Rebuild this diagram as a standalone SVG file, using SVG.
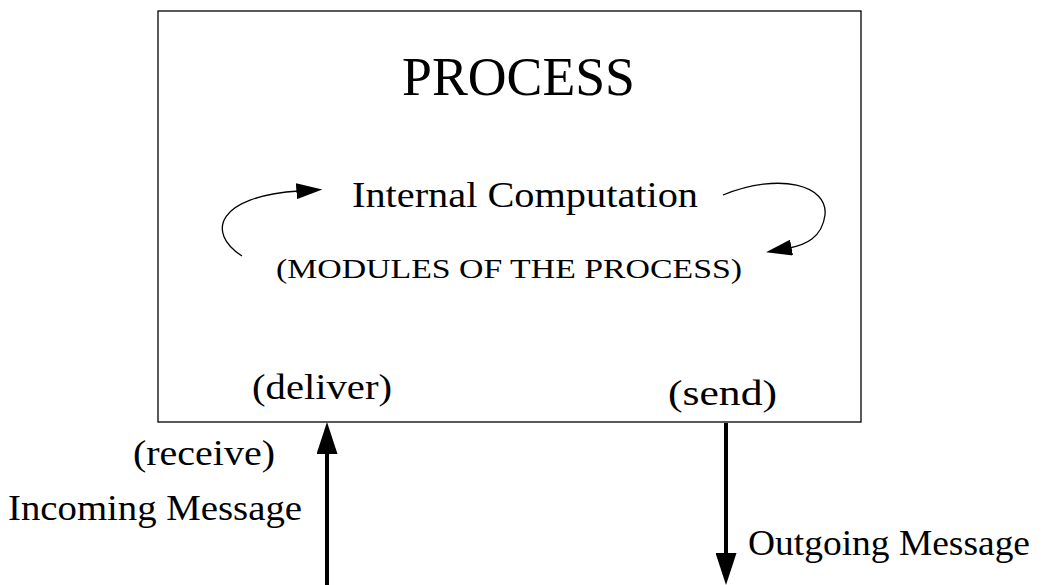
<svg xmlns="http://www.w3.org/2000/svg" width="1043" height="585" viewBox="0 0 1043 585">
  <style>
    text { font-family: "Liberation Serif", "DejaVu Serif", serif; fill: #000; }
    .frame { fill: #fff; stroke: #000; stroke-width: 1.3; }
    .thin { fill: none; stroke: #000; stroke-width: 1.3; }
    .thick { fill: none; stroke: #000; stroke-width: 4; }
  </style>
  <defs>
    <!-- heads start where the path ends, so the line stops at the head's base -->
    <marker id="headThin" viewBox="0 0 10 10" refX="1" refY="5" markerWidth="26" markerHeight="16" markerUnits="userSpaceOnUse" orient="auto" preserveAspectRatio="none">
      <path d="M0,0 L10,5 L0,10 Z" fill="#000"/>
    </marker>
    <marker id="headThick" viewBox="0 0 10 10" refX="0" refY="5" markerWidth="32" markerHeight="21" markerUnits="userSpaceOnUse" orient="auto" preserveAspectRatio="none">
      <path d="M0,0 L10,5 L0,10 Z" fill="#000"/>
    </marker>
  </defs>

  <rect width="1043" height="585" fill="#fff"/>

  <g id="process">
    <rect class="frame" x="158" y="11" width="703" height="411"/>
    <text x="402" y="95" font-size="54" textLength="233" lengthAdjust="spacingAndGlyphs">PROCESS</text>
    <text x="352" y="207" font-size="35" textLength="346" lengthAdjust="spacingAndGlyphs">Internal Computation</text>
    <text x="276" y="278" font-size="28" textLength="466" lengthAdjust="spacingAndGlyphs">(MODULES OF THE PROCESS)</text>
    <text x="252" y="399" font-size="35" textLength="140" lengthAdjust="spacingAndGlyphs">(deliver)</text>
    <text x="668" y="405" font-size="35" textLength="109" lengthAdjust="spacingAndGlyphs">(send)</text>
  </g>

  <g id="incoming">
    <text x="133" y="465" font-size="35" textLength="142" lengthAdjust="spacingAndGlyphs">(receive)</text>
    <text x="8" y="520" font-size="35" textLength="294" lengthAdjust="spacingAndGlyphs">Incoming Message</text>
  </g>

  <g id="outgoing">
    <text x="748" y="555" font-size="35" textLength="282" lengthAdjust="spacingAndGlyphs">Outgoing Message</text>
  </g>

  <g id="connectors">
    <!-- internal computation loops -->
    <path class="thin" d="M242,256 C205,232 218,196 299,191" marker-end="url(#headThin)"/>
    <path class="thin" d="M723,195 C780,172 828,185 825,215 C822,238 805,245 789,248" marker-end="url(#headThin)"/>
    <!-- message flow -->
    <path class="thick" d="M327,585 L327,454" marker-end="url(#headThick)"/>
    <path class="thick" d="M726,423 L726,553" marker-end="url(#headThick)"/>
  </g>
</svg>
